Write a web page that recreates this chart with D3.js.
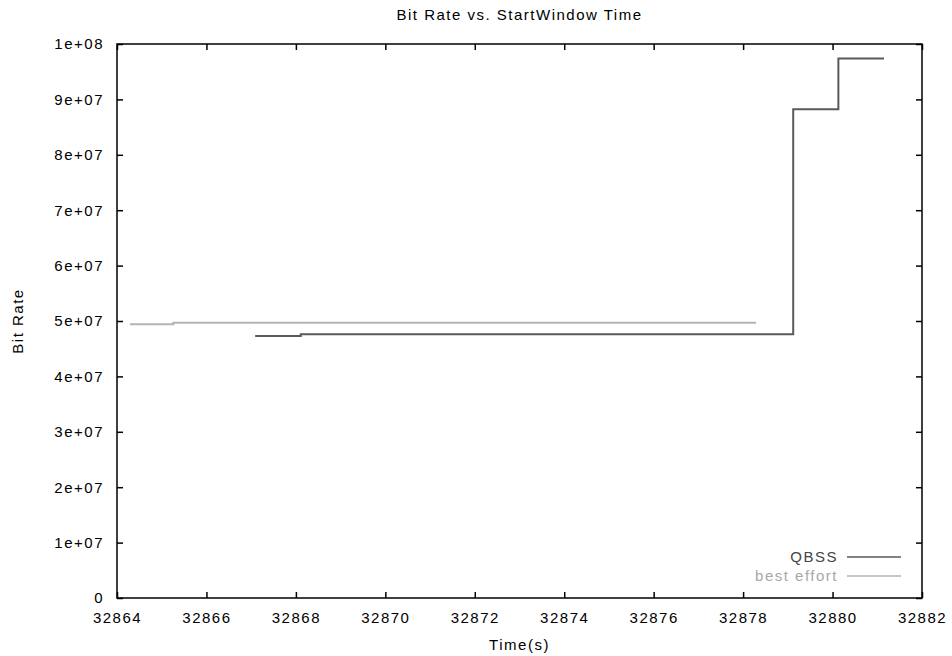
<!DOCTYPE html>
<head>
<meta charset="utf-8">
<style>
body { margin: 0; background: #fff; }
text { font-family: "Liberation Sans", Arial, sans-serif; font-size: 15px; letter-spacing: 1.5px; }
</style>
</head>
<body>
<script src="https://cdn.jsdelivr.net/npm/d3@7"></script>
<script>
// data (time in s, bit rate in bit/s)
var qbssTime = [32867.09, 32868.11, 32879.12, 32880.13, 32881.15];
var qbssRate = [4.73e7, 4.76e7, 8.82e7, 9.74e7, 9.74e7];
var beTime = [32864.29, 32865.26, 32878.29];
var beRate = [4.94e7, 4.97e7, 4.97e7];
var xTicks = [32864, 32866, 32868, 32870, 32872, 32874, 32876, 32878, 32880, 32882];
var yTicks = [0, 1e7, 2e7, 3e7, 4e7, 5e7, 6e7, 7e7, 8e7, 9e7, 1e8];
var yTickLabels = ["0", "1e+07", "2e+07", "3e+07", "4e+07", "5e+07", "6e+07", "7e+07", "8e+07", "9e+07", "1e+08"];

var width = 952, height = 656;
// plot frame (don't call these top/left: window.top is read-only)
var pLeft = 117, pRight = 922, pTop = 44, pBottom = 598;

var svg = d3.select("body").append("svg")
  .attr("width", width)
  .attr("height", height);

var x = d3.scaleLinear().domain([32864, 32882]).range([pLeft, pRight]);
var y = d3.scaleLinear().domain([0, 1e8]).range([pBottom, pTop]);

// title and axis labels
svg.append("text").attr("x", (pLeft + pRight) / 2).attr("y", 20)
  .attr("text-anchor", "middle").text("Bit Rate vs. StartWindow Time");
svg.append("text").attr("x", (pLeft + pRight) / 2).attr("y", 650)
  .attr("text-anchor", "middle").text("Time(s)");
svg.append("text").attr("transform", "translate(23," + ((pTop + pBottom) / 2) + ") rotate(-90)")
  .attr("text-anchor", "middle").text("Bit Rate");

// axes with inward ticks on all four sides
svg.append("g").attr("transform", "translate(0," + pBottom + ")")
  .call(d3.axisBottom(x).tickValues(xTicks).tickSizeInner(-6).tickSizeOuter(0).tickPadding(14).tickFormat(d3.format("d")));
svg.append("g").attr("transform", "translate(0," + pTop + ")")
  .call(d3.axisTop(x).tickValues(xTicks).tickSizeInner(-6).tickSizeOuter(0).tickFormat(""));
svg.append("g").attr("transform", "translate(" + pLeft + ",0)")
  .call(d3.axisLeft(y).tickValues(yTicks).tickSizeInner(-6).tickSizeOuter(0).tickPadding(13)
    .tickFormat(function(d, i) { return yTickLabels[i]; }));
svg.append("g").attr("transform", "translate(" + pRight + ",0)")
  .call(d3.axisRight(y).tickValues(yTicks).tickSizeInner(-6).tickSizeOuter(0).tickFormat(""));

svg.selectAll(".domain").remove();
svg.selectAll(".tick line").attr("stroke", "#000").attr("stroke-width", 1.5);
svg.selectAll(".tick text").attr("font-family", null).attr("font-size", null).attr("fill", "#000");

svg.append("rect").attr("x", pLeft).attr("y", pTop)
  .attr("width", pRight - pLeft).attr("height", pBottom - pTop)
  .attr("fill", "none").attr("stroke", "#000").attr("stroke-width", 1.5);

var line = d3.line().curve(d3.curveStepAfter)
  .x(function(d) { return x(d[0]); })
  .y(function(d) { return y(d[1]); });

var be = beTime.map(function(t, i) { return [t, beRate[i]]; });
var qbss = qbssTime.map(function(t, i) { return [t, qbssRate[i]]; });

svg.append("path").datum(be).attr("d", line)
  .attr("fill", "none").attr("stroke", "#b4b4b4").attr("stroke-width", 2);
svg.append("path").datum(qbss).attr("d", line)
  .attr("fill", "none").attr("stroke", "#5a5a5a").attr("stroke-width", 2);

// legend
var legend = [
  {name: "QBSS", color: "#5a5a5a", text: "#444", y: 557},
  {name: "best effort", color: "#b4b4b4", text: "#a8a8a8", y: 576}
];
var lg = svg.selectAll(".lg").data(legend).enter().append("g");
lg.append("line").attr("x1", 847).attr("x2", 901)
  .attr("y1", function(d) { return d.y; }).attr("y2", function(d) { return d.y; })
  .attr("stroke", function(d) { return d.color; }).attr("stroke-width", 1.5);
lg.append("text").attr("x", 838).attr("y", function(d) { return d.y + 5; })
  .attr("text-anchor", "end").attr("fill", function(d) { return d.text; })
  .text(function(d) { return d.name; });
</script>
</body>
